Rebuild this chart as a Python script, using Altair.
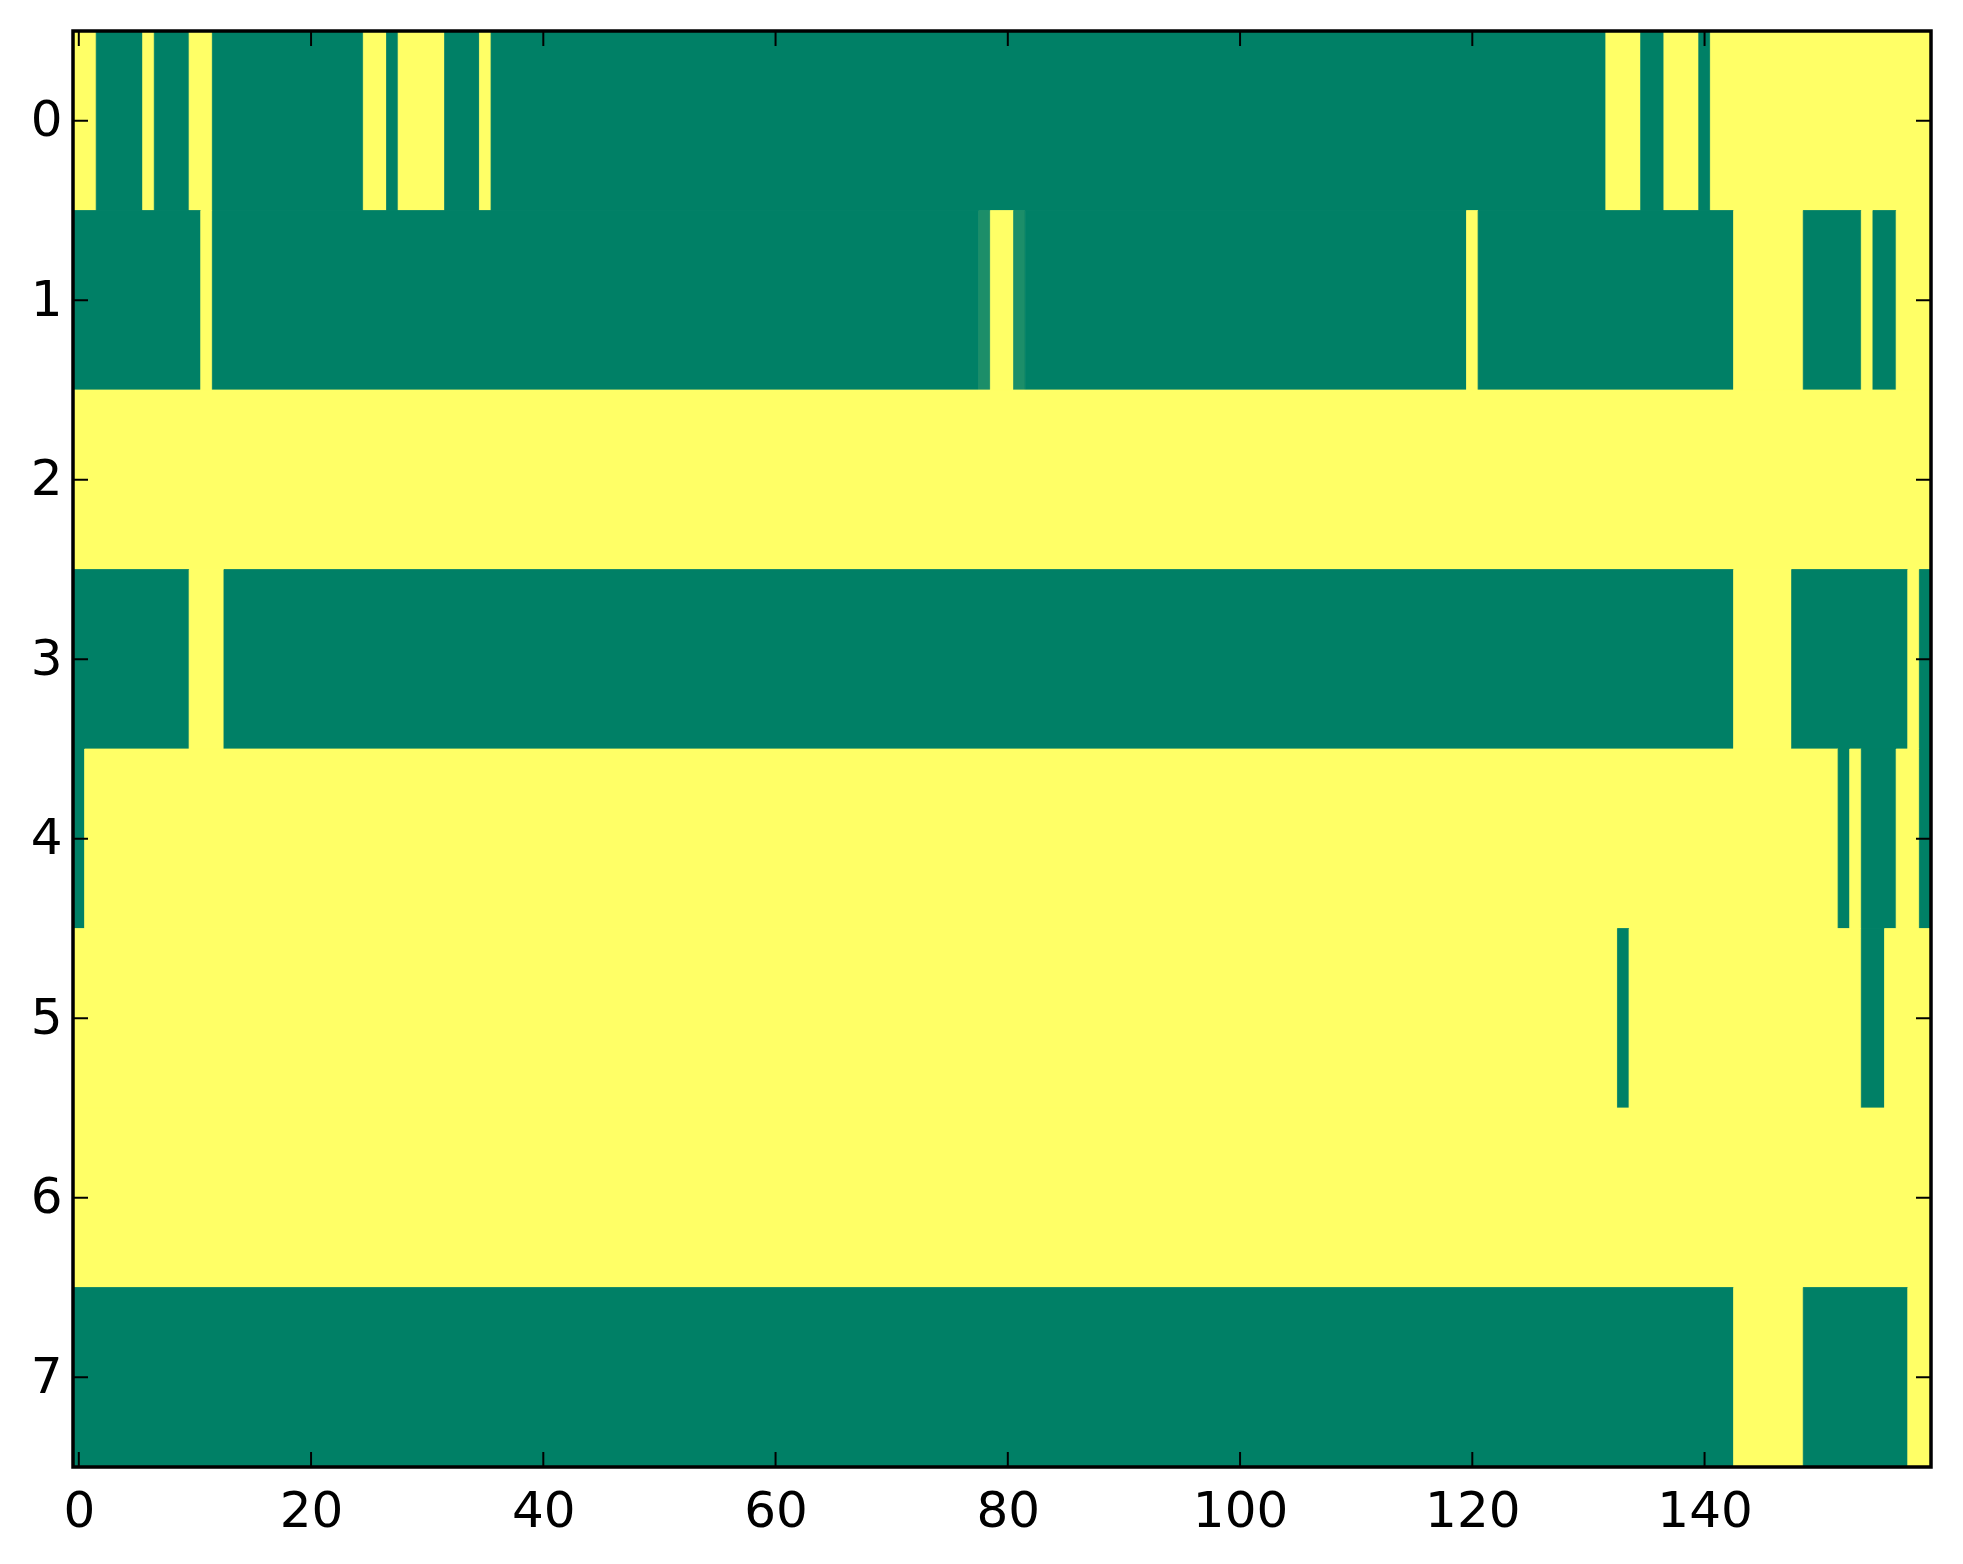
import altair as alt
import pandas as pd

# image rows as runs of equal cells: (first column, last column, value)
# value 0 = dark green, 1 = yellow (matplotlib "summer" colormap)
row_0 = [(0, 1, 1), (2, 5, 0), (6, 6, 1), (7, 9, 0), (10, 11, 1), (12, 24, 0),
         (25, 26, 1), (27, 27, 0), (28, 31, 1), (32, 34, 0), (35, 35, 1),
         (36, 131, 0), (132, 134, 1), (135, 136, 0), (137, 139, 1),
         (140, 140, 0), (141, 159, 1)]
row_1 = [(0, 10, 0), (11, 11, 1), (12, 77, 0), (78, 78, 0.1), (79, 80, 1),
         (81, 81, 0.1), (82, 119, 0), (120, 120, 1), (121, 142, 0),
         (143, 148, 1), (149, 153, 0), (154, 154, 1), (155, 156, 0),
         (157, 159, 1)]
row_2 = [(0, 159, 1)]
row_3 = [(0, 9, 0), (10, 12, 1), (13, 142, 0), (143, 147, 1), (148, 157, 0),
         (158, 158, 1), (159, 159, 0)]
row_4 = [(0, 0, 0), (1, 151, 1), (152, 152, 0), (153, 153, 1), (154, 156, 0),
         (157, 158, 1), (159, 159, 0)]
row_5 = [(0, 132, 1), (133, 133, 0), (134, 153, 1), (154, 155, 0),
         (156, 159, 1)]
row_6 = [(0, 159, 1)]
row_7 = [(0, 142, 0), (143, 148, 1), (149, 157, 0), (158, 159, 1)]
rows = [row_0, row_1, row_2, row_3, row_4, row_5, row_6, row_7]

x_ticks = [0, 20, 40, 60, 80, 100, 120, 140]
y_ticks = [0, 1, 2, 3, 4, 5, 6, 7]

W = 1858
H = 1436
FONT = 'DejaVu Sans'

# one rectangle per run, edges half a cell either side of the column index
recs = []
for r, runs in enumerate(rows):
    for start, end, val in runs:
        recs.append({'x0': start - 0.5, 'x1': end + 0.5,
                     'y0': r - 0.5, 'y1': r + 0.5, 'value': val})
cells = pd.DataFrame(recs)

xs = alt.Scale(domain=[-0.5, 159.5], nice=False, zero=False)
ys = alt.Scale(domain=[-0.5, 7.5], nice=False, zero=False, reverse=True)
cs = alt.Scale(domain=[0, 1], range=['#008066', '#ffff66'])

# same axis object in every layer so the merged axis keeps the labels
x_axis = alt.Axis(values=x_ticks, tickSize=0, domain=False, grid=False,
                  labelFont=FONT, labelFontSize=50, labelColor='black',
                  labelPadding=19, labelFlush=False, title=None)
y_axis = alt.Axis(values=y_ticks, tickSize=0, domain=False, grid=False,
                  labelFont=FONT, labelFontSize=50, labelColor='black',
                  labelPadding=11, labelFlush=False, title=None)

heat = alt.Chart(cells).mark_rect(strokeWidth=0.8).encode(
    x=alt.X('x0:Q', scale=xs, axis=x_axis),
    x2='x1:Q',
    y=alt.Y('y0:Q', scale=ys, axis=y_axis),
    y2='y1:Q',
    color=alt.Color('value:Q', scale=cs, legend=None),
    stroke=alt.Stroke('value:Q', scale=cs, legend=None)
)

# matplotlib classic style: ticks point inwards on all four sides
xt = pd.DataFrame({'t': x_ticks})
yt = pd.DataFrame({'t': y_ticks})
tick_style = dict(color='black', strokeWidth=2)

bottom = alt.Chart(xt).mark_rule(**tick_style).encode(
    x=alt.X('t:Q', scale=xs, axis=x_axis), y=alt.value(H), y2=alt.value(H - 15))
top = alt.Chart(xt).mark_rule(**tick_style).encode(
    x=alt.X('t:Q', scale=xs, axis=x_axis), y=alt.value(0), y2=alt.value(15))
left = alt.Chart(yt).mark_rule(**tick_style).encode(
    y=alt.Y('t:Q', scale=ys, axis=y_axis), x=alt.value(0), x2=alt.value(15))
right = alt.Chart(yt).mark_rule(**tick_style).encode(
    y=alt.Y('t:Q', scale=ys, axis=y_axis), x=alt.value(W), x2=alt.value(W - 15))

# black frame drawn over the image, like the matplotlib spines
frame = alt.Chart(pd.DataFrame({'f': [0]})).mark_rect(
    filled=False, stroke='black', strokeWidth=3.5
).encode(x=alt.value(0), x2=alt.value(W), y=alt.value(0), y2=alt.value(H))

chart = alt.layer(heat, bottom, top, left, right, frame).properties(
    width=W, height=H,
    padding={'left': 22, 'top': 21, 'right': 10, 'bottom': 10}
).configure_view(stroke=None)

chart.save('out.html', embed_options={'renderer': 'svg', 'actions': False})
